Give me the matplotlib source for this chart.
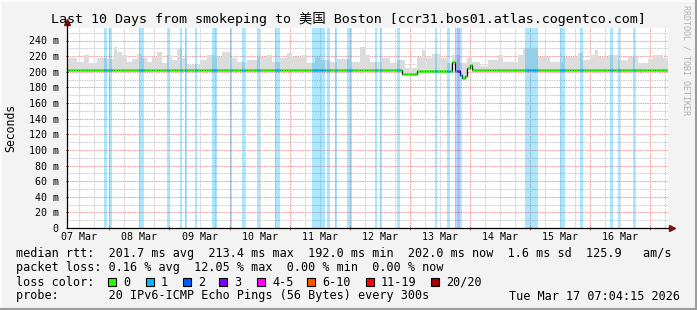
import numpy as np
import pandas as pd
import matplotlib
matplotlib.use("Agg")
import matplotlib.pyplot as plt
import matplotlib.dates as mdates
from matplotlib.lines import Line2D
from matplotlib.patches import Rectangle

# hourly consolidated values, first bin 07 Mar 07:00
start = "2026-03-07 07:00"
smoke_hi = [
    215, 217, 217, 217, 213, 213, 213, 221, 221, 211, 211, 211, 217, 217, 217, 217, 216, 216, 216, 232, 225, 225, 221, 221,
    213, 213, 216, 216, 223, 223, 217, 217, 213, 213, 219, 219, 225, 225, 211, 211, 221, 221, 215, 215, 229, 229, 217, 217,
    209, 209, 209, 209, 209, 215, 215, 215, 221, 221, 221, 221, 219, 219, 225, 225, 225, 217, 217, 217, 213, 213, 213, 213,
    215, 215, 215, 215, 219, 219, 219, 219, 221, 221, 213, 213, 213, 217, 217, 217, 224, 224, 219, 219, 219, 219, 222, 222,
    211, 211, 211, 219, 219, 215, 215, 215, 215, 213, 213, 213, 216, 216, 216, 216, 216, 213, 213, 213, 213, 232, 232, 221,
    221, 213, 213, 213, 213, 213, 217, 217, 217, 211, 211, 211, 215, 215, 215, 205, 205, 205, 205, 205, 219, 219, 228, 217,
    217, 217, 223, 223, 223, 217, 217, 217, 211, 211, 221, 221, 221, 211, 211, 211, 217, 217, 213, 213, 213, 208, 208, 208,
    215, 215, 215, 215, 221, 221, 213, 213, 213, 213, 213, 213, 221, 221, 230, 230, 230, 230, 230, 230, 219, 219, 219, 219,
    219, 213, 213, 213, 213, 213, 219, 219, 219, 219, 219, 219, 224, 224, 215, 215, 215, 221, 221, 228, 219, 219, 219, 219,
    221, 221, 221, 221, 215, 215, 215, 215, 219, 219, 219, 219, 211, 211, 211, 211, 216, 216, 221, 221, 221, 221, 217, 217,
]
median = [
    202, 202, 202, 202, 202, 202, 202, 202, 202, 202, 202, 202, 202, 202, 202, 202, 202, 202, 202, 202, 202, 202, 202, 202,
    202, 202, 202, 202, 202, 202, 202, 202, 202, 202, 202, 202, 202, 202, 202, 202, 202, 202, 202, 202, 202, 202, 202, 202,
    202, 202, 202, 202, 202, 202, 202, 202, 202, 202, 202, 202, 202, 202, 202, 202, 202, 202, 202, 202, 202, 202, 202, 202,
    202, 202, 202, 202, 202, 202, 202, 202, 202, 202, 202, 202, 202, 202, 202, 202, 202, 202, 202, 202, 202, 202, 202, 202,
    202, 202, 202, 202, 202, 202, 202, 202, 202, 202, 202, 202, 202, 202, 202, 202, 202, 202, 202, 202, 202, 202, 202, 202,
    202, 202, 202, 202, 202, 202, 202, 202, 202, 202, 202, 202, 202, 202, 197.5, 197.5, 197.5, 197.5, 196.5, 196.5, 200.5, 200.5, 200.5, 200.5,
    200.5, 200.5, 200.5, 200.5, 200.5, 200.5, 200.5, 200.5, 200.5, 200.5, 213, 200.5, 201, 196, 192, 194, 205, 209, 202, 202, 202, 202, 202, 202,
    202, 202, 202, 202, 202, 202, 202, 202, 202, 202, 202, 202, 202, 202, 202, 202, 202, 202, 202, 202, 202, 202, 202, 202,
    202, 202, 202, 202, 202, 202, 202, 202, 202, 202, 202, 202, 202, 202, 202, 202, 202, 202, 202, 202, 202, 202, 202, 202,
    202, 202, 202, 202, 202, 202, 202, 202, 202, 202, 202, 202, 202, 202, 202, 202, 202, 202, 202, 202, 202, 202, 202, 202,
]
loss_hours = [15, 17, 29, 30, 40, 45, 47, 51, 58, 59, 65, 70, 76, 83, 84, 98, 99, 100, 101, 102, 104, 107,
              112, 113, 123, 125, 132, 147, 152, 155, 156, 157, 183, 184, 185, 186, 187, 197, 198, 205, 217, 220, 226]
loss_pings = [1, 1, 1, 1, 1, 1, 1, 1, 1, 1, 1, 1, 1, 1, 1, 1, 1, 1, 1, 1, 1, 1,
              1, 1, 1, 1, 1, 1, 1, 1, 3, 1, 1, 1, 1, 1, 1, 1, 1, 1, 1, 1, 1]

day_labels = ["07 Mar", "08 Mar", "09 Mar", "10 Mar", "11 Mar", "12 Mar", "13 Mar", "14 Mar", "15 Mar", "16 Mar"]
loss_names = ["0", "1", "2", "3", "4-5", "6-10", "11-19", "20/20"]
loss_colors = ["#26ff00", "#00b8ff", "#0059ff", "#7e00ff", "#ff00ff", "#ff5500", "#ff0000", "#a10000"]


def loss_color(n):
    if n <= 3:
        return loss_colors[n]
    if n <= 5:
        return loss_colors[4]
    if n <= 10:
        return loss_colors[5]
    if n <= 19:
        return loss_colors[6]
    return loss_colors[7]


mono = "DejaVu Sans Mono"
W, H = 697, 310
fig = plt.figure(figsize=(W / 100, H / 100), dpi=100, facecolor="#f3f3f3")
ax = fig.add_axes([67 / W, 1 - 228 / H, 601 / W, 200 / H])
ax.set_facecolor("white")

t0 = mdates.date2num(pd.date_range(start, periods=len(median), freq="h").to_pydatetime())
step = 1 / 24
x0 = mdates.date2num(pd.Timestamp("2026-03-07 07:04:15").to_pydatetime())
ax.set_xlim(x0, x0 + 10)
ax.set_ylim(0, 256)

# grid
red, grey = "#f2a0a0", "#cfcfcf"
dots = (0, (1.5, 0.8))
for v in range(10, 256, 10):
    ax.axhline(v, color=red if v % 20 == 0 else grey, lw=0.75, ls=dots, zorder=0.5)
day0 = pd.Timestamp("2026-03-07")
for k in range(0, 44):
    t = mdates.date2num((day0 + pd.Timedelta(hours=6 * k)).to_pydatetime())
    if x0 < t < x0 + 10:
        ax.axvline(t, color=red if k % 4 == 0 else grey, lw=0.75, ls=dots, zorder=0.5)

# smoke
xe = np.append(t0, t0[-1] + step)
hi = np.append(smoke_hi, smoke_hi[-1])
lo = np.append(median, median[-1]) - 1.5
ax.fill_between(xe, lo, hi, step="post", color="#dcdcdc", lw=0, zorder=1)

# loss bars
for h, n in zip(loss_hours, loss_pings):
    ax.axvspan(t0[h], t0[h] + step, color=loss_color(n), alpha=0.33, lw=0, zorder=2)

# median
me = np.append(median, median[-1])
ax.step(xe, me, where="post", color="black", lw=0.9, zorder=3)
seg_colors = []
for i in range(len(median)):
    n = loss_pings[loss_hours.index(i)] if i in loss_hours else 0
    seg_colors.append(loss_color(n))
ax.hlines(median, t0, t0 + step, colors=seg_colors, lw=1.8, zorder=4)

# axes
for s in ax.spines.values():
    s.set_visible(False)
ax.plot([0, 0], [0, 1.02], transform=ax.transAxes, color="black", lw=0.9, clip_on=False, zorder=5)
ax.plot([0, 1.0], [0, 0], transform=ax.transAxes, color="black", lw=0.9, clip_on=False, zorder=5)
ax.plot([1.006], [0], marker=">", color="#7a1010", ms=4.5, transform=ax.transAxes, clip_on=False)
ax.plot([0], [1.03], marker="^", color="#7a1010", ms=4.5, transform=ax.transAxes, clip_on=False)

yt = list(range(0, 241, 20))
ax.set_yticks(yt)
ax.set_yticklabels(["0"] + [f"{v} m" for v in yt[1:]], fontfamily=mono, fontsize=7.2)
noons = [mdates.date2num((day0 + pd.Timedelta(days=d, hours=12)).to_pydatetime()) for d in range(len(day_labels))]
ax.set_xticks(noons)
ax.set_xticklabels(day_labels, fontfamily=mono, fontsize=7.2)
mids = [mdates.date2num((day0 + pd.Timedelta(days=d)).to_pydatetime()) for d in range(1, 11)]
ax.set_xticks(mids, minor=True)
ax.tick_params(axis="x", which="major", length=0, pad=3)
ax.tick_params(axis="x", which="minor", length=3, direction="inout", color="#e06060", width=0.8)
ax.tick_params(axis="y", length=2, direction="inout", pad=5, width=0.6)

# texts
def ftext(x, y, s, **kw):
    kw.setdefault("fontfamily", mono)
    kw.setdefault("fontsize", 8.5)
    kw.setdefault("va", "center")
    fig.text(x / W, 1 - y / H, s, **kw)


ftext(348, 19, "Last 10 Days from smokeping to 美国 Boston [ccr31.bos01.atlas.cogentco.com]",
      ha="center", fontsize=9.6, fontfamily=[mono, "Noto Sans CJK SC"])
ftext(11, 128, "Seconds", ha="center", rotation=90, fontsize=8.3)
ftext(686, 5, "RRDTOOL / TOBI OETIKER", ha="center", va="top", rotation=270, fontsize=6, color="#b0b0b0")

ftext(16, 254, "median rtt:  201.7 ms avg  213.4 ms max  192.0 ms min  202.0 ms now  1.6 ms sd  125.9   am/s")
ftext(16, 268, "packet loss: 0.16 % avg  12.05 % max  0.00 % min  0.00 % now")
ftext(16, 282, "loss color:")
box_x = [108, 146, 183, 219, 257, 307, 366, 431]
for bx, name, c in zip(box_x, loss_names, loss_colors):
    fig.add_artist(Rectangle((bx / W, 1 - 286 / H), 8 / W, 8 / H, transform=fig.transFigure,
                             facecolor=c, edgecolor="black", lw=0.8))
    ftext(bx + 15, 282, name)
ftext(16, 296, "probe:       20 IPv6-ICMP Echo Pings (56 Bytes) every 300s")
ftext(680, 296, "Tue Mar 17 07:04:15 2026", ha="right")

# frame
fig.add_artist(Line2D([0, 1], [1 - 0.5 / H] * 2, transform=fig.transFigure, color="#fcfcfc", lw=1.5))
fig.add_artist(Line2D([0.5 / W] * 2, [0, 1], transform=fig.transFigure, color="#fcfcfc", lw=1.5))
fig.add_artist(Line2D([0, 1], [1 / H] * 2, transform=fig.transFigure, color="#9c9c9c", lw=1.5))
fig.add_artist(Line2D([1 - 1 / W] * 2, [0, 1], transform=fig.transFigure, color="#9c9c9c", lw=1.5))

fig.savefig("out.png", dpi=100, facecolor=fig.get_facecolor())
